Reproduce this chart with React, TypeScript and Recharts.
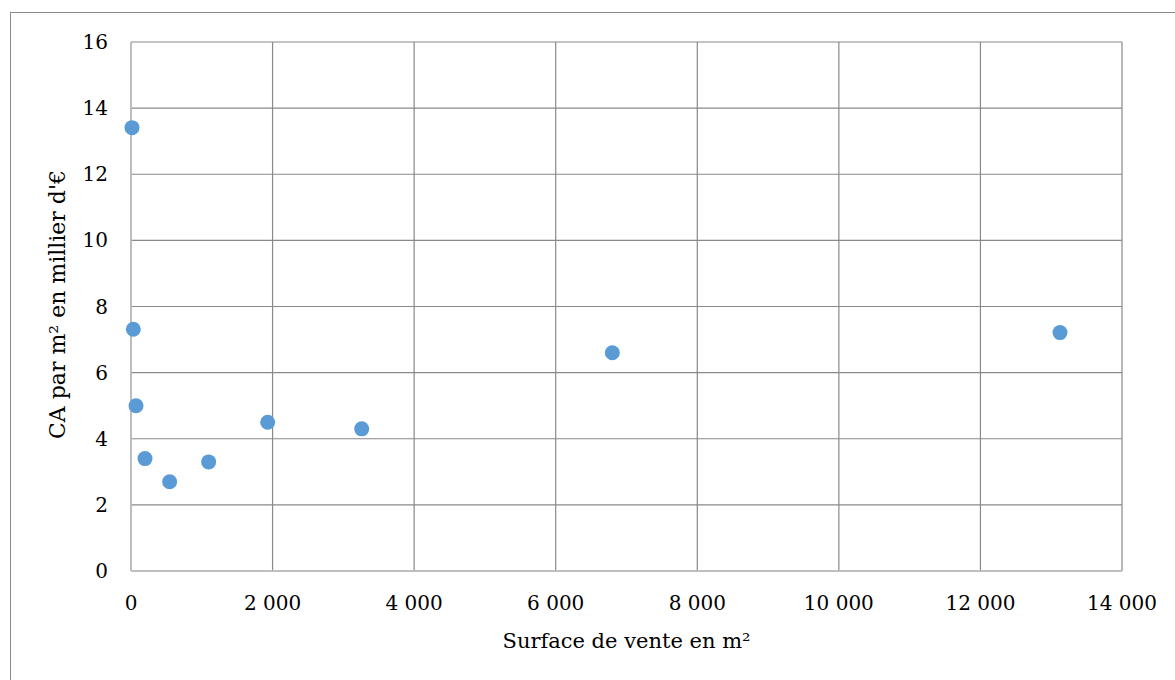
import React from 'react';
import { ScatterChart, Scatter, XAxis, YAxis, CartesianGrid } from 'recharts';

const surface = [14, 33, 71, 198, 546, 1097, 1931, 3259, 6800, 13124];
const caParM2 = [13.41, 7.31, 5.0, 3.4, 2.7, 3.3, 4.5, 4.3, 6.6, 7.21];
const xTicks = [0, 2000, 4000, 6000, 8000, 10000, 12000, 14000];
const yTicks = [0, 2, 4, 6, 8, 10, 12, 14, 16];
const xTitle = 'Surface de vente en m²';
const yTitle = "CA par m² en millier d'€";

const data = surface.map((s, i) => ({ x: s, y: caParM2[i] }));

const fmt = (n: number) => String(n).replace(/\B(?=(\d{3})+(?!\d))/g, ' ');

const FONT = '"DejaVu Serif", serif';
const FS = 20;

export default function App() {
  return (
    <div style={{ position: 'relative', width: 1175, height: 680, background: '#fff', overflow: 'hidden' }}>
      <style>{`body{margin:0;overflow:hidden}`}</style>
      <div
        style={{
          position: 'absolute',
          left: 10,
          top: 12,
          width: 1180,
          height: 700,
          borderLeft: '1.5px solid #8a8a8a',
          borderTop: '1.5px solid #8a8a8a',
          boxSizing: 'border-box',
        }}
      />
      <div style={{ position: 'absolute', left: 0, top: 0 }}>
        <ScatterChart
          width={1175}
          height={680}
          margin={{ top: 42, right: 53, bottom: 0, left: 0 }}
          style={{ fontFamily: FONT }}
        >
          <CartesianGrid stroke="#898989" strokeWidth={1.2} />
          <XAxis
            type="number"
            dataKey="x"
            domain={[0, 14000]}
            ticks={xTicks}
            tickFormatter={fmt}
            interval={0}
            height={109}
            axisLine={{ stroke: '#bfbfbf', strokeWidth: 1.5 }}
            tickLine={false}
            tickSize={0}
            tickMargin={25}
            tick={{ fill: '#000', fontSize: FS, fontFamily: FONT }}
            label={{ value: xTitle, position: 'center', dy: 15, fill: '#000', fontSize: 21, fontFamily: FONT }}
          />
          <YAxis
            type="number"
            dataKey="y"
            domain={[0, 16]}
            ticks={yTicks}
            interval={0}
            width={131}
            axisLine={{ stroke: '#bfbfbf', strokeWidth: 1.5 }}
            tickLine={false}
            tickSize={0}
            tickMargin={23}
            tick={{ fill: '#000', fontSize: FS, fontFamily: FONT }}
            label={{ value: yTitle, angle: -90, position: 'center', dx: -8, dy: -2, fill: '#000', fontSize: 22, fontFamily: FONT }}
          />
          <Scatter data={data} fill="#5b9bd5" isAnimationActive={false} shape={(p: any) => <circle cx={p.cx} cy={p.cy} r={7.5} fill="#5b9bd5" />} />
        </ScatterChart>
      </div>
    </div>
  );
}
